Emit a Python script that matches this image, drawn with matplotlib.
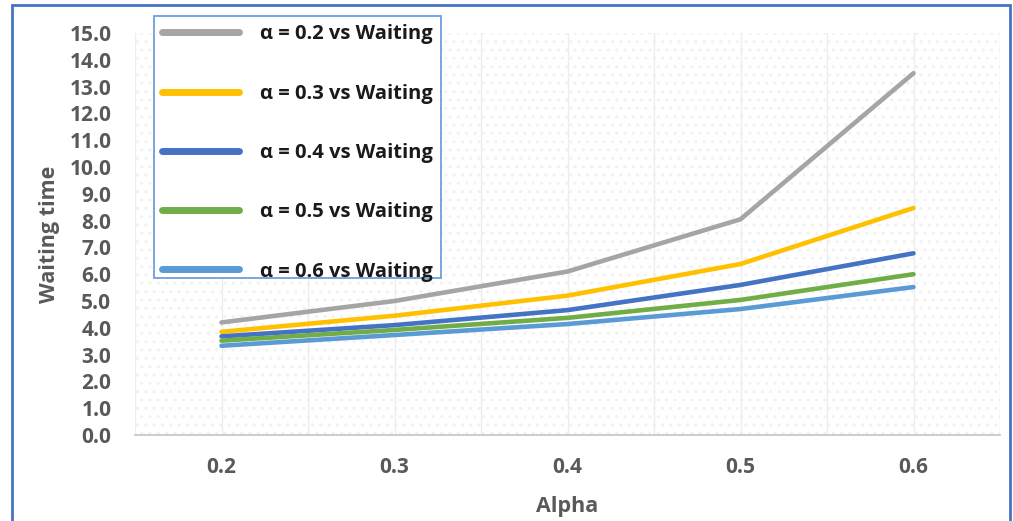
import matplotlib.pyplot as plt
from matplotlib.patches import Rectangle

# ── Data ──────────────────────────────────────────────────────────────────────
alpha_labels = ["0.2", "0.3", "0.4", "0.5", "0.6"]
wait_a02 = [4.2, 5.0, 6.1, 8.05, 13.5]
wait_a03 = [3.85, 4.45, 5.2, 6.38, 8.47]
wait_a04 = [3.68, 4.1, 4.66, 5.6, 6.78]
wait_a05 = [3.52, 3.92, 4.37, 5.04, 6.0]
wait_a06 = [3.33, 3.73, 4.14, 4.7, 5.52]
series_labels = ["α = 0.2 vs Waiting", "α = 0.3 vs Waiting", "α = 0.4 vs Waiting",
                 "α = 0.5 vs Waiting", "α = 0.6 vs Waiting"]
y_ticks = [float(v) for v in range(16)]

COLORS = ["#A5A5A5", "#FFC000", "#4472C4", "#70AD47", "#5B9BD5"]
AXIS_TXT = "#595959"
FONT = "Open Sans"
W, H = 1013, 521

fig = plt.figure(figsize=(W / 100, H / 100), dpi=100, facecolor="white")
ax = fig.add_axes([135 / W, 1 - 435 / H, 865 / W, 402 / H])
ax.set_facecolor("white")

# faint dotted texture behind the lines
ax.add_patch(Rectangle((0, 0), 1, 1, transform=ax.transAxes, facecolor="none",
                       edgecolor="#f1f1f1", hatch="..", lw=0, zorder=0))

x = list(range(len(alpha_labels)))
for vals, col, lab in zip([wait_a02, wait_a03, wait_a04, wait_a05, wait_a06],
                          COLORS, series_labels):
    ax.plot(x, vals, color=col, lw=3.3, label=lab, solid_capstyle="round", zorder=3)

ax.set_xlim(-0.5, len(alpha_labels) - 0.5)
ax.set_ylim(0, 15)
ax.set_xticks(x)
ax.set_xticklabels(alpha_labels)
ax.set_xticks([i + 0.5 for i in range(-1, len(alpha_labels))], minor=True)
ax.set_yticks(y_ticks)
ax.set_yticklabels([f"{v:.1f}" for v in y_ticks])
ax.grid(True, axis="x", which="both", color="#ededed", lw=1, zorder=1)
ax.tick_params(axis="both", which="both", length=0, colors=AXIS_TXT)
ax.tick_params(axis="x", pad=16)
ax.tick_params(axis="y", pad=17)
for lbl in ax.get_xticklabels() + ax.get_yticklabels():
    lbl.set_fontfamily(FONT)
    lbl.set_fontweight("bold")
    lbl.set_fontsize(15)

for side in ("top", "right", "left"):
    ax.spines[side].set_visible(False)
ax.spines["bottom"].set_color("#c8c8c8")
ax.spines["bottom"].set_linewidth(1.3)

ax.set_xlabel("Alpha", fontfamily=FONT, fontweight="bold", fontsize=15.5,
              color=AXIS_TXT, labelpad=13)
ax.set_ylabel("Waiting time", fontfamily=FONT, fontweight="bold", fontsize=15.5,
              color=AXIS_TXT, labelpad=7)

# legend box: white panel with a thin blue border, entries placed inside it
ax.add_patch(Rectangle((154 / W, 1 - 278 / H), 287 / W, 262 / H,
                       transform=fig.transFigure, clip_on=False,
                       facecolor="white", edgecolor="#6d9fdc", lw=1.3, zorder=4))
leg = ax.legend(loc="upper left", bbox_to_anchor=(154 / W, 1 - 16 / H),
                bbox_transform=fig.transFigure, borderaxespad=0,
                prop={"family": FONT, "weight": "bold", "size": 14.5},
                handlelength=3.8, handletextpad=1.05, labelspacing=1.95,
                borderpad=0.42, frameon=False)
leg.set_zorder(5)
for t in leg.get_texts():
    t.set_color("#1a1a1a")
for h in leg.get_lines():
    h.set_linewidth(5)

# outer chart frame
fig.patches.append(Rectangle((12 / W, -0.05), 998 / W, 1.05 - 5 / H,
                             transform=fig.transFigure, fill=False,
                             edgecolor="#4472C4", lw=2))

fig.savefig("out.png", dpi=100, facecolor="white")
